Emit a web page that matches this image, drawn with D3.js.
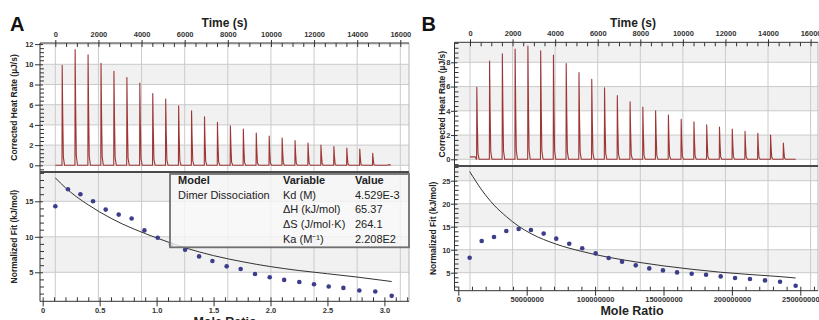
<!DOCTYPE html>
<html>
<head>
<meta charset="utf-8">
<script src="https://cdn.jsdelivr.net/npm/d3@7"></script>
<style>
body { margin: 0; background: #fff; }
text { font-family: "Liberation Sans", Arial, sans-serif; }
</style>
</head>
<body>
<svg id="chart" width="819" height="320"></svg>
<script>

// injection times (s), same schedule in both runs
var injTimes = [320, 920, 1520, 2120, 2720, 3320, 3920, 4520, 5120, 5720, 6320, 6920, 7520,
                8120, 8720, 9320, 9920, 10520, 11120, 11720, 12320, 12920, 13520, 14120, 14720];

// peak heights (uJ/s)
var heatA = [9.9, 11.45, 10.95, 10.1, 9.3, 8.7, 8.15, 7.1, 6.55, 5.9, 5.4, 4.8, 4.25,
             3.9, 3.6, 3.2, 2.9, 2.7, 2.45, 2.2, 2.0, 1.85, 1.7, 1.6, 1.2];
var heatB = [5.93, 8.1, 8.7, 9.1, 9.35, 8.95, 8.6, 7.9, 7.15, 6.6, 5.9, 5.25, 4.75,
             4.3, 4.0, 3.65, 3.3, 3.1, 2.85, 2.65, 2.5, 2.3, 2.15, 2.0, 1.35];

// shape of one injection spike: [seconds after injection, fraction of peak]
var peakShape = [[-10, 0], [0, 1], [25, 0.5], [55, 0.08], [110, 0]];

// baseline before / after the injections
var startA = [[0, 0]];
var endA = [[15400, 0], [15480, 0.08], [15560, 0]];
var startB = [[0, 0.2], [250, 0.2], [300, 0]];
var endB = [[15300, 0]];

// normalized fit, run A
var moleA = [0.111, 0.222, 0.331, 0.442, 0.553, 0.667, 0.781, 0.893, 1.01, 1.127, 1.25, 1.373, 1.49,
             1.615, 1.738, 1.864, 1.993, 2.12, 2.253, 2.382, 2.511, 2.64, 2.78, 2.92, 3.064];
var fitPtsA = [14.3, 16.7, 16.0, 15.0, 13.83, 13.13, 12.57, 10.9, 9.86, 8.93, 8.18, 7.24, 6.59,
               5.84, 5.47, 4.77, 4.3, 3.93, 3.64, 3.32, 2.99, 2.8, 2.43, 2.29, 1.68];
var curveXA = [0.111, 0.2, 0.3, 0.4, 0.5, 0.6, 0.7, 0.8, 0.9, 1.0, 1.25, 1.5, 1.75, 2.0, 2.25, 2.5, 2.75, 3.064];
var curveYA = [18.3, 16.9, 15.6, 14.5, 13.5, 12.6, 11.8, 11.1, 10.45, 9.85, 8.45, 7.35, 6.5, 5.8, 5.25, 4.8, 4.35, 3.7];

// normalized fit, run B
var moleB = [8.3e6, 17.1e6, 26.1e6, 35.1e6, 44.1e6, 53.1e6, 62.4e6, 71.6e6, 81.1e6, 90.6e6, 100.4e6,
             109.9e6, 119.7e6, 129.7e6, 139.6e6, 149.6e6, 159.9e6, 170.6e6, 181.1e6, 191.8e6,
             202.3e6, 213.2e6, 224.2e6, 235.2e6, 246.6e6];
var fitPtsB = [8.26, 11.9, 12.75, 14.06, 14.5, 14.27, 13.5, 12.4, 11.3, 10.3, 9.2, 8.2, 7.4,
               6.6, 5.94, 5.5, 5.07, 4.78, 4.57, 4.2, 3.84, 3.62, 3.33, 3.04, 2.17];
var curveXB = [8.3e6, 17.1e6, 26.1e6, 35.1e6, 44.1e6, 53.1e6, 71.6e6, 90.6e6, 109.9e6, 129.7e6,
               149.6e6, 170.6e6, 191.8e6, 213.2e6, 235.2e6, 246.6e6];
var curveYB = [27, 23, 19.7, 17.2, 15.1, 13.5, 11.2, 9.6, 8.35, 7.35, 6.5, 5.75, 5.1, 4.6, 4.15, 3.85];

// tick labels
var timeTicks = [0, 2000, 4000, 6000, 8000, 10000, 12000, 14000, 16000];
var heatTicksA = [0, 2, 4, 6, 8, 10, 12];
var heatTicksB = [0, 2, 4, 6, 8];
var fitTicksA = [5, 10, 15];
var fitTicksB = [5, 10, 15, 20, 25];
var moleTicksA = [0, 0.5, 1.0, 1.5, 2.0, 2.5, 3.0];
var moleTicksB = [0, 50000000, 100000000, 150000000, 200000000, 250000000];

// fit results table (run A)
var tableHead = ["Model", "Variable", "Value"];
var tableRows = [
    ["Dimer Dissociation", "Kd (M)", "4.529E-3"],
    ["", "\u0394H (kJ/mol)", "65.37"],
    ["", "\u0394S (J/mol\u00B7K)", "264.1"],
    ["", "Ka (M\u207B\u00B9)", "2.208E2"]
];

var svg = d3.select("#chart");

function buildTrace(heights, start, end) {
    var pts = start.slice();
    injTimes.forEach(function(t, i) {
        peakShape.forEach(function(p) { pts.push([t + p[0], heights[i] * p[1]]); });
    });
    return pts.concat(end);
}

function minorTicks(lo, hi, step, majors) {
    return d3.range(Math.ceil(lo / step) * step, hi, step).filter(function(v) {
        return !majors.some(function(m) { return Math.abs(m - v) < step / 10; });
    });
}

function hline(g, x1, x2, y, col, w) {
    g.append("line").attr("x1", x1).attr("x2", x2).attr("y1", y).attr("y2", y)
        .attr("stroke", col).attr("stroke-width", w);
}
function vline(g, x, y1, y2, col, w) {
    g.append("line").attr("x1", x).attr("x2", x).attr("y1", y1).attr("y2", y2)
        .attr("stroke", col).attr("stroke-width", w);
}

function styleAxis(sel) {
    sel.select(".domain").remove();
    sel.selectAll(".tick line").attr("stroke", "#333");
    sel.selectAll("text").attr("font-size", "7.5px").attr("font-weight", "bold")
        .attr("fill", "#333").attr("font-family", "Liberation Sans, Arial, sans-serif");
}

function drawPanel(o) {
    var g = svg.append("g");
    var L = o.left, R = o.right, T = o.top, D = o.div, B = o.bottom;

    var xT = d3.scaleLinear().domain([0, 16000]).range(o.timeRange);
    var yT = d3.scaleLinear().domain([0, o.heatTicks[1]]).range(o.heatRange);
    var xM = d3.scaleLinear().domain([0, o.moleTicks[1]]).range(o.moleRange);
    var yF = d3.scaleLinear().domain([5, 10]).range(o.fitRange);

    // alternating bands
    o.heatBands.forEach(function(b) {
        var y1 = Math.max(T, yT(b[1])), y2 = Math.min(D, yT(b[0]));
        if (y2 > y1) g.append("rect").attr("x", L).attr("y", y1).attr("width", R - L)
            .attr("height", y2 - y1).attr("fill", "#f1f1f1");
    });
    o.fitBands.forEach(function(b) {
        var y1 = Math.max(D, yF(b[1])), y2 = Math.min(B, yF(b[0]));
        if (y2 > y1) g.append("rect").attr("x", L).attr("y", y1).attr("width", R - L)
            .attr("height", y2 - y1).attr("fill", "#f1f1f1");
    });

    // grid
    o.heatTicks.forEach(function(v) { if (yT(v) > T + 1) hline(g, L, R, yT(v), "#cbcbcb", 1); });
    o.fitTicks.forEach(function(v) { if (yF(v) > D + 1 && yF(v) < B) hline(g, L, R, yF(v), "#cbcbcb", 1); });
    timeTicks.forEach(function(t) { vline(g, xT(t), T, B, "#cbcbcb", 1); });
    vline(g, R, T, B, "#b5b5b5", 1);

    var clipId = "clip" + o.name;
    svg.append("clipPath").attr("id", clipId + "t").append("rect")
        .attr("x", L).attr("y", T).attr("width", R - L).attr("height", D - T);
    svg.append("clipPath").attr("id", clipId + "f").append("rect")
        .attr("x", L).attr("y", D).attr("width", R - L).attr("height", B - D);

    // thermogram
    var trace = buildTrace(o.heat, o.start, o.end);
    g.append("path").datum(trace)
        .attr("clip-path", "url(#" + clipId + "t)")
        .attr("d", d3.line().x(function(d) { return xT(d[0]); }).y(function(d) { return yT(d[1]); }))
        .attr("fill", "none").attr("stroke", "#9e3636").attr("stroke-width", 1.1)
        .attr("stroke-linejoin", "round");

    // fit curve and points
    var fg = g.append("g").attr("clip-path", "url(#" + clipId + "f)");
    var curve = o.curveX.map(function(x, i) { return [x, o.curveY[i]]; });
    fg.append("path").datum(curve)
        .attr("d", d3.line().curve(d3.curveMonotoneX)
            .x(function(d) { return xM(d[0]); }).y(function(d) { return yF(d[1]); }))
        .attr("fill", "none").attr("stroke", "#333").attr("stroke-width", 1);

    fg.selectAll("circle.pt").data(o.mole).enter().append("circle")
        .attr("class", "pt")
        .attr("cx", function(d) { return xM(d); })
        .attr("cy", function(d, i) { return yF(o.fitPts[i]); })
        .attr("r", 2.3)
        .attr("fill", "#3d3d8c");

    // top time axis
    var ax = g.append("g").attr("transform", "translate(0," + T + ")")
        .call(d3.axisTop(xT).tickValues(timeTicks).tickSize(3).tickPadding(3).tickFormat(d3.format("d")))
        .call(styleAxis);
    ax.selectAll(".tick line").attr("y1", 4);
    g.append("g").attr("transform", "translate(0," + T + ")")
        .call(d3.axisBottom(xT).tickValues(minorTicks(0, 16001, 500, timeTicks)).tickSize(4).tickFormat(""))
        .call(styleAxis);

    // left axis, heat rate
    var hmin = yT.invert(D), hmax = yT.invert(T);
    var ay = g.append("g").attr("transform", "translate(" + L + ",0)")
        .call(d3.axisLeft(yT).tickValues(o.heatTicks).tickSize(o.tickOut).tickPadding(o.tickPad).tickFormat(d3.format("d")))
        .call(styleAxis);
    ay.selectAll(".tick line").attr("x1", 3);
    g.append("g").attr("transform", "translate(" + L + ",0)")
        .call(d3.axisRight(yT).tickValues(minorTicks(hmin + 0.05, hmax, o.heatMinor, o.heatTicks)).tickSize(4).tickFormat(""))
        .call(styleAxis);

    // left axis, normalized fit
    var fmin = yF.invert(B), fmax = yF.invert(D);
    var af = g.append("g").attr("transform", "translate(" + L + ",0)")
        .call(d3.axisLeft(yF).tickValues(o.fitTicks).tickSize(o.tickOut).tickPadding(o.tickPad).tickFormat(d3.format("d")))
        .call(styleAxis);
    af.selectAll(".tick line").attr("x1", 3);
    g.append("g").attr("transform", "translate(" + L + ",0)")
        .call(d3.axisRight(yF).tickValues(minorTicks(fmin + 0.1, fmax - 0.1, 1, o.fitTicks)).tickSize(4).tickFormat(""))
        .call(styleAxis);

    // bottom axis, mole ratio
    var ab = g.append("g").attr("transform", "translate(0," + B + ")")
        .call(d3.axisBottom(xM).tickValues(o.moleTicks).tickSize(5).tickPadding(1).tickFormat(o.moleFmt))
        .call(styleAxis);
    ab.selectAll(".tick line").attr("y1", -4);
    g.append("g").attr("transform", "translate(0," + B + ")")
        .call(d3.axisTop(xM).tickValues(minorTicks(xM.invert(L + 2), xM.invert(R - 1), o.moleMinor, o.moleTicks)).tickSize(4).tickFormat(""))
        .call(styleAxis);

    // frame lines
    hline(g, L, R, T, "#333", 1);
    hline(g, L, R, B, "#333", 1);
    vline(g, L, T, B, "#333", 1);
    hline(g, L, R, D, "#4a4a4a", 1.8);

    // titles
    g.append("text").attr("x", o.letterX).attr("y", 30.5).text(o.name)
        .attr("font-size", "20px").attr("font-weight", "bold").attr("fill", "#111");
    g.append("text").attr("x", o.timeTitleX).attr("y", 27).attr("text-anchor", "middle")
        .text("Time (s)").attr("font-size", "12px").attr("font-weight", "bold").attr("fill", "#222");
    g.append("text").attr("x", o.moleTitleX).attr("y", o.moleTitleY).attr("text-anchor", "middle")
        .text("Mole Ratio").attr("font-size", "12.5px").attr("font-weight", "bold").attr("fill", "#222");
    g.append("text").attr("transform", "translate(" + o.heatTitleX + "," + ((T + D) / 2) + ") rotate(-90)")
        .attr("text-anchor", "middle").text("Corrected Heat Rate (\u00B5J/s)")
        .attr("font-size", "8.5px").attr("font-weight", "bold").attr("fill", "#222");
    g.append("text").attr("transform", "translate(" + o.fitTitleX + "," + ((D + B) / 2) + ") rotate(-90)")
        .attr("text-anchor", "middle").text("Normalized Fit (kJ/mol)")
        .attr("font-size", "8.5px").attr("font-weight", "bold").attr("fill", "#222");

    return g;
}

var gA = drawPanel({
    name: "A", left: 40, right: 409, top: 43, div: 172, bottom: 301.3,
    timeRange: [55.3, 400.3], heatRange: [165.3, 145.1], moleRange: [42.7, 99.65], fitRange: [272.3, 236.8],
    heatTicks: heatTicksA, heatMinor: 0.4, heatBands: [[0, 2], [4, 6], [8, 10]],
    fitTicks: fitTicksA, fitBands: [[5, 10], [15, 20]],
    moleTicks: moleTicksA, moleMinor: 0.1,
    moleFmt: function(d) { return d === 0 ? "0" : d3.format(".1f")(d); },
    heat: heatA, start: startA, end: endA,
    mole: moleA, fitPts: fitPtsA, curveX: curveXA, curveY: curveYA,
    tickOut: 5, tickPad: 1.5,
    letterX: 10, timeTitleX: 224.5, moleTitleX: 225, moleTitleY: 326, heatTitleX: 17, fitTitleX: 17
});

var gB = drawPanel({
    name: "B", left: 454.5, right: 818, top: 42.3, div: 166, bottom: 290.7,
    timeRange: [470, 810.6], heatRange: [159.3, 135.05], moleRange: [458.3, 526.7], fitRange: [272.7, 249.7],
    heatTicks: heatTicksB, heatMinor: 0.4, heatBands: [[0, 2], [4, 6], [8, 10]],
    fitTicks: fitTicksB, fitBands: [[5, 10], [15, 20], [25, 30]],
    moleTicks: moleTicksB, moleMinor: 10000000,
    moleFmt: d3.format("d"),
    heat: heatB, start: startB, end: endB,
    mole: moleB, fitPts: fitPtsB, curveX: curveXB, curveY: curveYB,
    tickOut: 3.5, tickPad: 0.5,
    letterX: 421.5, timeTitleX: 633, moleTitleX: 632, moleTitleY: 314.5, heatTitleX: 444.5, fitTitleX: 436
});

// results table over the fit of run A
var tx = [178, 283, 355];
var box = gA.append("g");
box.append("rect").attr("x", 170).attr("y", 174).attr("width", 239).attr("height", 73.3)
    .attr("fill", "#f7f7f7").attr("fill-opacity", 0.82)
    .attr("stroke", "#707070").attr("stroke-width", 1.8);
box.selectAll("text.head").data(tableHead).enter().append("text")
    .attr("x", function(d, i) { return tx[i]; }).attr("y", 183.5)
    .text(function(d) { return d; })
    .attr("font-size", "11px").attr("font-weight", "bold").attr("fill", "#222");
tableRows.forEach(function(row, r) {
    box.selectAll("text.r" + r).data(row).enter().append("text")
        .attr("x", function(d, i) { return tx[i]; }).attr("y", 198.5 + r * 14.9)
        .text(function(d) { return d; })
        .attr("font-size", "11px").attr("fill", "#222");
});

</script>
</body>
</html>
